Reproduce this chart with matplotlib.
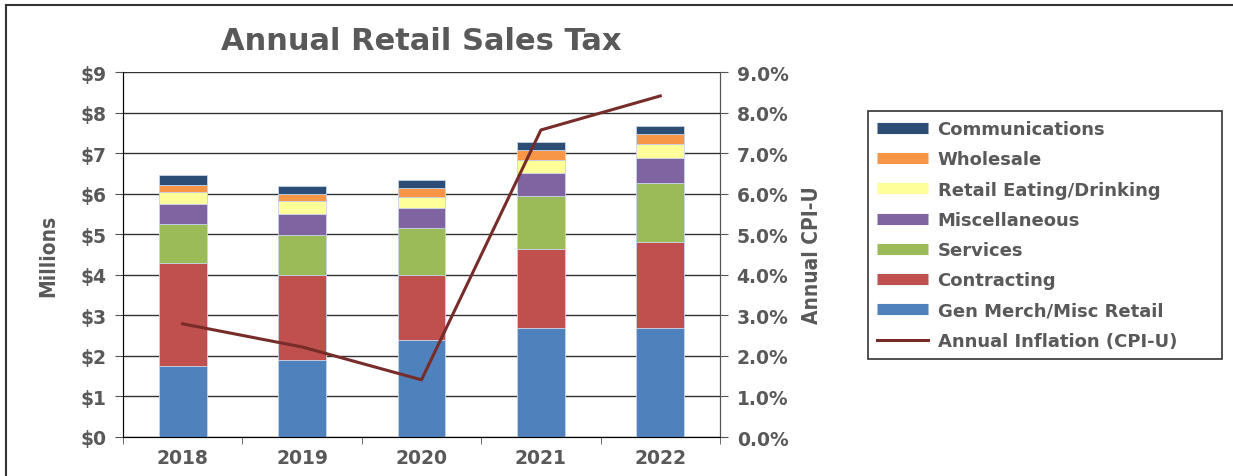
from matplotlib import pyplot as plt
from matplotlib.lines import Line2D
import numpy as np

years = ["2018", "2019", "2020", "2021", "2022"]

# stacked segments (millions), bottom to top
gen_merch = [1.74, 1.90, 2.39, 2.70, 2.70]
contracting = [2.55, 2.09, 1.61, 1.94, 2.12]
services = [0.97, 1.00, 1.15, 1.31, 1.44]
misc = [0.49, 0.51, 0.50, 0.55, 0.61]
eating = [0.30, 0.31, 0.27, 0.33, 0.35]
wholesale = [0.17, 0.18, 0.23, 0.25, 0.26]
communications = [0.24, 0.19, 0.18, 0.19, 0.18]

inflation = [2.79, 2.22, 1.41, 7.57, 8.41]

series = [
    ("Gen Merch/Misc Retail", gen_merch, "#4F81BD"),
    ("Contracting", contracting, "#C0504D"),
    ("Services", services, "#9BBB59"),
    ("Miscellaneous", misc, "#8064A2"),
    ("Retail Eating/Drinking", eating, "#FFFF99"),
    ("Wholesale", wholesale, "#F79646"),
    ("Communications", communications, "#2C4D75"),
]

grey = "#595959"
plt.rcParams['font.family'] = ['DejaVu Sans']

fig = plt.figure(figsize=(12.33, 4.77), dpi=100)
ax = fig.add_axes([123 / 1233, 1 - 438 / 477, (720 - 123) / 1233, (438 - 73) / 477])

x = np.arange(len(years))
bottom = np.zeros(len(years))
for name, vals, col in series:
    ax.bar(x, vals, 0.40, bottom=bottom, color=col, edgecolor="#C8D4E6",
           linewidth=0.6, zorder=3)
    bottom += np.array(vals)

ax.set_xlim(-0.5, 4.5)
ax.set_ylim(0, 9)
ax.set_yticks(range(10))
ax.set_yticklabels(["$" + str(i) for i in range(10)])
ax.yaxis.grid(True, color="#333333", linewidth=1, zorder=0)
ax.set_xticks(x)
ax.set_xticklabels(years)
ax.set_xticks(np.arange(-0.5, 5, 1), minor=True)
ax.tick_params(axis="x", which="major", length=0, pad=8)
ax.tick_params(axis="x", which="minor", length=5, color="#555555")
ax.tick_params(axis="y", length=6, color="#555555", pad=6)
for lab in ax.get_xticklabels() + ax.get_yticklabels():
    lab.set_fontweight("bold")
    lab.set_color(grey)
    lab.set_fontsize(13.5)
ax.spines["top"].set_visible(False)
for s in ["left", "right", "bottom"]:
    ax.spines[s].set_color("#555555")
ax.set_ylabel("Millions", fontsize=15, fontweight="bold", color=grey,
              fontstretch="condensed", labelpad=16)

ax2 = ax.twinx()
ax2.plot(x, inflation, color="#772C2A", linewidth=2.2, zorder=5)
ax2.set_ylim(0, 9)
ax2.set_yticks(range(10))
ax2.set_yticklabels(["%.1f%%" % i for i in range(10)])
ax2.tick_params(axis="y", length=6, color="#555555", pad=6)
for lab in ax2.get_yticklabels():
    lab.set_fontweight("bold")
    lab.set_color(grey)
    lab.set_fontsize(13.5)
ax2.spines["top"].set_visible(False)
ax2.spines["right"].set_color("#555555")
ax2.set_ylabel("Annual CPI-U", fontsize=15, fontweight="bold", color=grey,
               fontstretch="condensed", labelpad=10)

fig.text(421 / 1233, 1 - 42 / 477, "Annual Retail Sales Tax", ha="center",
         va="center", fontsize=22, fontweight="bold", color=grey)

handles = []
labels = []
for name, vals, col in reversed(series):
    handles.append(Line2D([0], [0], color=col, linewidth=8, solid_capstyle="butt"))
    labels.append(name)
handles.append(Line2D([0], [0], color="#772C2A", linewidth=2.2))
labels.append("Annual Inflation (CPI-U)")
leg = fig.legend(handles, labels, loc="upper left",
                 bbox_to_anchor=(868 / 1233, 1 - 112 / 477 - 0.01, (1222 - 868) / 1233, 0.01),
                 mode="expand", fontsize=13, frameon=True, fancybox=False,
                 edgecolor="black", handlelength=2.8, handletextpad=0.55,
                 labelspacing=0.68, borderpad=0.5, borderaxespad=0)
leg.get_frame().set_linewidth(1.2)
for t in leg.get_texts():
    t.set_fontweight("bold")
    t.set_color(grey)

# outer border (top and left edges)
fig.add_artist(Line2D([6 / 1233, 1], [1 - 6 / 477, 1 - 6 / 477], color="#333333", linewidth=1.5))
fig.add_artist(Line2D([6 / 1233, 6 / 1233], [0, 1 - 6 / 477], color="#333333", linewidth=1.5))

fig.savefig("out.png", dpi=100)
